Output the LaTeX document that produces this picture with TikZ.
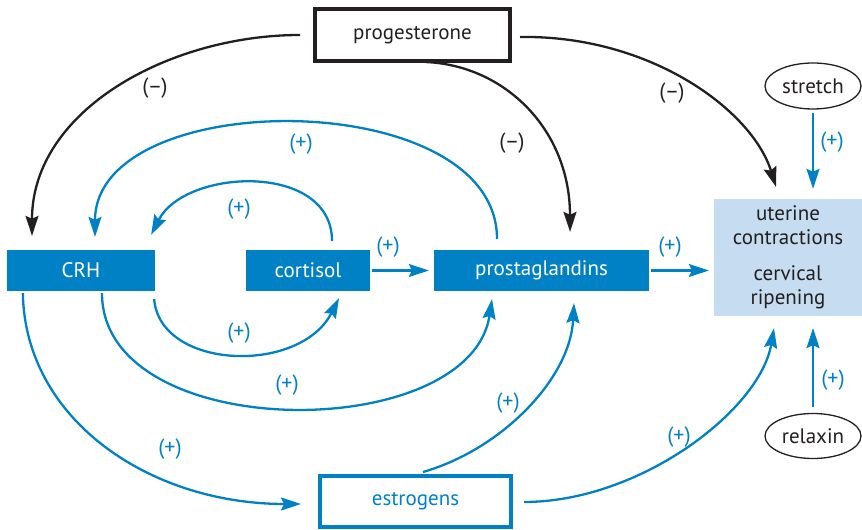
\documentclass[tikz,border=0pt]{standalone}
\usepackage{fontspec}
\setmainfont{PT Sans}
\usetikzlibrary{arrows.meta,shapes.geometric}
\definecolor{hormblue}{RGB}{0,129,198}
\definecolor{targetblue}{RGB}{198,220,240}
\definecolor{inkgray}{RGB}{35,31,32}

\begin{document}
\begin{tikzpicture}[x=1pt, y=1pt, line width=2.3pt, font=\fontsize{21}{24}\selectfont,
  solidbox/.style={fill=hormblue, text=white, minimum height=41pt, inner sep=0pt},
  framebox/.style={draw, line width=4pt, minimum width=195pt, minimum height=52pt, inner sep=0pt},
  cue/.style={ellipse, draw=inkgray, line width=1.3pt, minimum width=96pt, minimum height=46pt, inner sep=0pt, text=inkgray},
  boost/.style={hormblue, -{Stealth[length=20pt,width=13pt,inset=3pt]}},
  curb/.style={inkgray, -{Stealth[length=20pt,width=13pt,inset=3pt]}},
  plus/.style={font=\fontsize{22}{24}\selectfont, text=hormblue},
  minus/.style={font=\fontsize{22}{24}\selectfont, text=inkgray}]
\useasboundingbox (0,0) rectangle (862,530);
% the hormones and the two targets
\node[framebox, draw=inkgray, text=inkgray] (prog) at (412.5,495) {progesterone};
\node[framebox, draw=hormblue, text=hormblue, minimum width=191pt, minimum height=51pt] (estro) at (415.5,28.5) {estrogens};
\node[solidbox, minimum width=148pt] (crh) at (81,259.5) {CRH};
\node[solidbox, minimum width=124pt] (cort) at (308,259.5) {cortisol};
\node[solidbox, minimum width=215pt] (prost) at (541.5,259.5) {prostaglandins};
\node[fill=targetblue, text=inkgray, minimum width=148pt, minimum height=117pt, align=center, inner sep=0pt] (uter) at (788,272.5) {uterine\\contractions\\[12pt]cervical\\ripening};
\node[cue] (stretch) at (813,444) {stretch};
\node[cue, minimum height=45pt] (relax) at (813,94) {relaxin};
% progesterone holds things back
\draw[curb] ([xshift=-13pt]prog.west) .. controls (170,495) and (32,420) .. ([xshift=-49pt,yshift=13pt]crh.north);
\node[minus] (m-crh) at (155,442) {(–)};
\draw[curb] ([xshift=12.5pt,yshift=1pt]prog.south) .. controls (505,465) and (570,400) .. ([xshift=28.5pt,yshift=17pt]prost.north);
\node[minus] (m-prost) at (512,387) {(–)};
\draw[curb] ([xshift=8pt,yshift=-2pt]prog.east) .. controls (650,495) and (752,420) .. ([xshift=-12pt,yshift=11pt]uter.north);
\node[minus] (m-uter) at (672,437) {(–)};
% straight pushes
\draw[boost] ([yshift=-3pt]stretch.south) -- ([xshift=25pt,yshift=9pt]uter.north);
\node[plus] (p-stretch) at (832,388) {(+)};
\draw[boost] ([yshift=6pt]relax.north) -- ([xshift=25pt,yshift=-11pt]uter.south);
\node[plus] (p-relax) at (833,150) {(+)};
\draw[boost, shorten >=4pt] ([xshift=1pt]cort.east) -- (cort.east -| prost.west);
\node[plus] (p-cort) at (388,283) {(+)};
\draw[boost, shorten >=4pt] ([xshift=1pt]prost.east) -- (prost.east -| uter.west);
\node[plus] (p-prost) at (670,283) {(+)};
% feedback back onto CRH
\draw[boost] ([xshift=24pt,yshift=8pt]cort.north) .. controls (332,368) and (185,362) .. ([xshift=-5pt,yshift=14pt]crh.north east);
\node[plus] (p-cortcrh) at (239,321) {(+)};
\draw[boost] ([xshift=-44.5pt,yshift=10pt]prost.north) .. controls (497,445) and (95,445) .. ([xshift=14pt,yshift=12pt]crh.north);
\node[plus] (p-prostcrh) at (301,386) {(+)};
% CRH drives the rest
\draw[boost] ([xshift=-2pt,yshift=-7pt]crh.south east) .. controls (160,160) and (300,155) .. ([xshift=31pt,yshift=-6pt]cort.south);
\node[plus] (p-crhcort) at (239,197) {(+)};
\draw[boost] ([xshift=21pt,yshift=-1pt]crh.south) .. controls (102,85) and (470,85) .. ([xshift=-49.5pt,yshift=-7pt]prost.south);
\node[plus] (p-crhprost) at (287,145) {(+)};
\draw[boost] ([xshift=17pt,yshift=-1pt]crh.south west) .. controls (25,110) and (150,26) .. ([xshift=-17pt,yshift=-2.5pt]estro.west);
\node[plus] (p-crhestro) at (170,81) {(+)};
% estrogens
\draw[boost] ([xshift=7.5pt,yshift=2pt]estro.north) .. controls (500,80) and (570,150) .. ([xshift=32.5pt,yshift=-11pt]prost.south);
\node[plus] (p-estroprost) at (508,127) {(+)};
\draw[boost] ([xshift=11pt,yshift=-0.5pt]estro.east) .. controls (640,28) and (760,120) .. ([xshift=-14pt,yshift=-11pt]uter.south);
\node[plus] (p-estrouter) at (679,93) {(+)};
\end{tikzpicture}
\end{document}
